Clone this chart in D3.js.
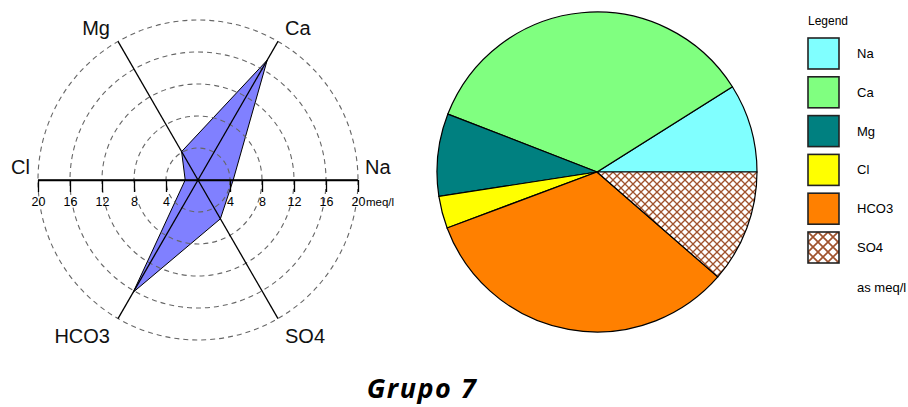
<!DOCTYPE html>
<html>
<head>
<meta charset="utf-8">
<script src="https://cdn.jsdelivr.net/npm/d3@7"></script>
<style>
  body { margin: 0; background: #fff; }
  svg { display: block; font-family: "Liberation Sans", Arial, sans-serif; }
</style>
</head>
<body>
<div id="chart"></div>
<script>
const ions = ["Na", "Ca", "Mg", "Cl", "HCO3", "SO4"];
const meq = [4.4, 17.3, 4.1, 1.6, 16.2, 5.6];
// direction of each ion axis, degrees counter-clockwise from east
const axisDeg = [0, 60, 120, 180, 240, 300];
const rings = [4, 8, 12, 16, 20];
const axisTicks = [-20, -16, -12, -8, -4, 4, 8, 12, 16, 20];
const sliceFill = ["#80ffff", "#80ff80", "#008080", "#ffff00", "#ff8000", "url(#hatch)"];
const legendFill = ["#80ffff", "#80ff80", "#008080", "#ffff00", "#ff8000", "url(#hatchBig)"];

const W = 908, H = 407;
const svg = d3.select("#chart").append("svg").attr("width", W).attr("height", H);

// crosshatch patterns for SO4
function hatch(id, s) {
  const p = svg.append("defs").append("pattern")
    .attr("id", id).attr("patternUnits", "userSpaceOnUse")
    .attr("width", s).attr("height", s);
  p.append("rect").attr("width", s).attr("height", s).attr("fill", "#fff");
  p.append("path")
    .attr("d", `M${-s / 2},${-s / 2}L${s * 1.5},${s * 1.5}M${-s / 2},${s * 1.5}L${s * 1.5},${-s / 2}`)
    .attr("stroke", "#a0522d").attr("stroke-width", s / 6);
}
hatch("hatch", 8);
hatch("hatchBig", 10);

// ---------- radial diagram ----------
const rc = { x: 198, y: 180 };
const R = 160;
const r = d3.scaleLinear().domain([0, 20]).range([0, R]);
const toRad = (deg) => Math.PI / 2 - (deg * Math.PI) / 180; // d3 radial angle

const radar = svg.append("g").attr("transform", `translate(${rc.x},${rc.y})`);

const shape = d3.lineRadial()
  .angle((d, i) => toRad(axisDeg[i]))
  .radius((d) => r(d))
  .curve(d3.curveLinearClosed);

radar.append("path")
  .attr("d", shape(meq))
  .attr("fill", "#8080ff")
  .attr("stroke", "#000")
  .attr("stroke-width", 1);

radar.selectAll("circle.ring")
  .data(rings)
  .enter()
  .append("circle")
  .attr("class", "ring")
  .attr("r", (d) => r(d))
  .attr("fill", "none")
  .attr("stroke", "#666")
  .attr("stroke-width", 1.1)
  .attr("stroke-dasharray", "5,4");

const endX = (i) => Math.cos((axisDeg[i] * Math.PI) / 180) * R;
const endY = (i) => -Math.sin((axisDeg[i] * Math.PI) / 180) * R;

radar.selectAll("line.spoke")
  .data(ions)
  .enter()
  .append("line")
  .attr("class", "spoke")
  .attr("x1", 0).attr("y1", 0)
  .attr("x2", (d, i) => endX(i))
  .attr("y2", (d, i) => endY(i))
  .attr("stroke", "#000")
  .attr("stroke-width", 1.3);

// horizontal Cl - Na axis with meq/l ticks
const xAxisScale = d3.scaleLinear().domain([-20, 20]).range([-R, R]);
const xAxis = radar.append("g")
  .call(d3.axisBottom(xAxisScale)
    .tickValues(axisTicks)
    .tickFormat((d) => Math.abs(d))
    .tickSize(12)
    .tickSizeOuter(0)
    .tickPadding(5));
xAxis.select(".domain").attr("stroke", "#000").attr("stroke-width", 1.5);
xAxis.selectAll(".tick line").attr("stroke", "#000").attr("stroke-width", 1.3);
xAxis.selectAll(".tick text")
  .attr("fill", "#000")
  .style("font-size", "12.5px")
  .style("font-family", "'Liberation Sans', Arial, sans-serif");

radar.append("text")
  .attr("x", xAxisScale(20) + 8)
  .attr("y", 26)
  .style("font-size", "11.5px")
  .text("meq/l");

radar.selectAll("text.ion")
  .data(ions)
  .enter()
  .append("text")
  .attr("class", "ion")
  .attr("x", (d, i) => endX(i) + (endX(i) >= 0 ? 7 : -8))
  .attr("y", (d, i) => endY(i) + (endY(i) > 1 ? 24 : -6))
  .attr("text-anchor", (d, i) => (endX(i) >= 0 ? "start" : "end"))
  .style("font-size", "20px")
  .attr("fill", "#111")
  .text((d) => d);

// ---------- pie ----------
const pc = { x: 597, y: 172 };
const pieR = 160;
const pie = d3.pie().sort(null)
  .startAngle(Math.PI / 2)
  .endAngle(Math.PI / 2 - 2 * Math.PI);
const arc = d3.arc().innerRadius(0).outerRadius(pieR);

svg.append("g")
  .attr("transform", `translate(${pc.x},${pc.y})`)
  .selectAll("path")
  .data(pie(meq))
  .enter()
  .append("path")
  .attr("d", arc)
  .attr("fill", (d, i) => sliceFill[i])
  .attr("stroke", "#000")
  .attr("stroke-width", 1.2);

// ---------- legend ----------
const lg = { x: 808, y: 38, box: 31 };
const ly = d3.scalePoint().domain(ions).range([lg.y, lg.y + 5 * 38.8]);

svg.append("text")
  .attr("x", lg.x).attr("y", 25)
  .style("font-size", "12px")
  .text("Legend");

const items = svg.selectAll("g.leg")
  .data(ions)
  .enter()
  .append("g")
  .attr("class", "leg")
  .attr("transform", (d) => `translate(${lg.x},${ly(d)})`);

items.append("rect")
  .attr("width", lg.box).attr("height", lg.box)
  .attr("fill", (d, i) => legendFill[i])
  .attr("stroke", "#222")
  .attr("stroke-width", 1.6);

items.append("text")
  .attr("x", 49).attr("y", lg.box / 2 + 4.5)
  .style("font-size", "13px")
  .text((d) => d);

svg.append("text")
  .attr("x", lg.x + 49).attr("y", 292)
  .style("font-size", "13px")
  .text("as meq/l");

// ---------- title ----------
svg.append("text")
  .attr("x", 422).attr("y", 398)
  .attr("text-anchor", "middle")
  .style("font-family", "'Open Sans', sans-serif")
  .style("font-weight", "bold")
  .style("font-style", "italic")
  .style("font-size", "27px")
  .style("letter-spacing", "1.5px")
  .text("Grupo 7");
</script>
</body>
</html>
